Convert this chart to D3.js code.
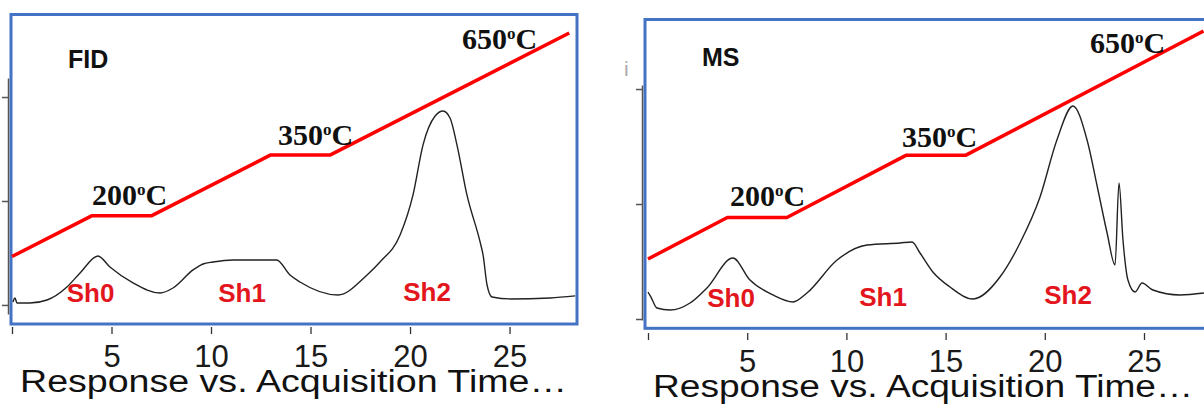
<!DOCTYPE html>
<html><head><meta charset="utf-8">
<script src="https://cdn.jsdelivr.net/npm/d3@7"></script>
<style>body{margin:0;background:#fff}svg{display:block}</style>
</head><body><svg id="c" width="1204" height="404"></svg>
<script>
// ---------- data ----------
const timeTicks = [0, 5, 10, 15, 20, 25];
const responseTicks = [0, 1, 2];
const programTime = [0, 4, 7, 13, 16, 28];
const programTemp = [100, 200, 200, 350, 350, 650];
const holdLabels = ["200", "350", "650"];
const shellNames = ["Sh0", "Sh1", "Sh2"];
const axisTitle = "Response vs. Acquisition Time\u2026";

const fidTime = [0.05,0.15,0.25,0.9,1.76,2.76,3.42,4.32,4.92,6.08,7.44,8.09,9.10,9.6,10.1,11.1,13.3,13.97,14.47,16.38,17.84,18.49,19.5,20.15,20.65,21.26,21.66,22.01,22.36,22.86,23.52,23.67,23.87,24.12,25.03,27.04,28.3];
const fidResponse = [0.029,0.067,0.019,0.019,0.048,0.173,0.308,0.471,0.365,0.212,0.115,0.163,0.337,0.394,0.413,0.433,0.433,0.288,0.221,0.096,0.288,0.413,0.673,1.058,1.538,1.817,1.865,1.798,1.538,1.058,0.606,0.481,0.192,0.077,0.058,0.067,0.087];

const msTime = [0,0.15,0.45,1.11,2.12,2.97,4.28,5.14,6.3,7.31,8.01,9.53,11.04,12.7,13.31,13.71,14.36,15.22,16.38,17.74,18.75,19.76,20.61,21.42,22.13,22.68,23.14,23.54,23.74,23.94,24.19,24.55,24.9,25.45,26.81,28.02];
const msResponse = [0.235,0.19,0.096,0.078,0.139,0.27,0.53,0.339,0.209,0.148,0.226,0.513,0.643,0.661,0.67,0.574,0.409,0.278,0.174,0.365,0.661,1.061,1.557,1.852,1.557,1.122,0.748,0.47,1.183,0.687,0.339,0.235,0.313,0.252,0.209,0.226];

// ---------- layout ----------
const panels = [
  { name: "FID", time: fidTime, resp: fidResponse,
    box: [11, 14.5, 577, 324],
    xDom: [0, 28.4], xRange: [12, 577.2],
    yDom: [-0.087, 2.183], yRange: [314, 78], yAxisX: 8,
    tRange: [256.5, 33],
    xAxisY: 327, tickLabelY: 40,
    title: [20, 392, 547],
    nameXY: [68, 68],
    shellXY: [[90.5, 302], [242, 302], [427, 301]],
    holdXY: [[92, 205], [278, 145], [462, 49]] },
  { name: "MS", time: msTime, resp: msResponse,
    box: [645, 19.5, 1215, 328.3],
    xDom: [0, 28.1], xRange: [648, 1205.5],
    yDom: [-0.0087, 2.035], yRange: [320, 85], yAxisX: 642,
    tRange: [259, 31],
    xAxisY: 333, tickLabelY: 39,
    title: [653, 397, 540],
    nameXY: [702, 66],
    shellXY: [[731, 307], [883, 306], [1068, 304]],
    holdXY: [[730, 206], [902, 147], [1090, 53]] }
];

const svg = d3.select("#c");
const SANS = "'Liberation Sans', Arial, sans-serif";
const SERIF = "'Liberation Serif', 'Times New Roman', serif";

panels.forEach(p => {
  const g = svg.append("g");
  const x = d3.scaleLinear().domain(p.xDom).range(p.xRange);
  const y = d3.scaleLinear().domain(p.yDom).range(p.yRange);
  const yT = d3.scaleLinear().domain([100, 650]).range(p.tRange);

  // blue frame
  g.append("rect")
    .attr("x", p.box[0]).attr("y", p.box[1])
    .attr("width", p.box[2] - p.box[0]).attr("height", p.box[3] - p.box[1])
    .attr("fill", "none").attr("stroke", "#4472c4").attr("stroke-width", 3);

  // y axis (unlabelled)
  const ya = g.append("g").attr("transform", `translate(${p.yAxisX},0)`)
    .call(d3.axisLeft(y).tickValues(responseTicks).tickFormat("").tickSize(6).tickSizeOuter(0));
  ya.selectAll("path,line").attr("stroke", "#555").attr("stroke-width", 1.5);

  // x axis ticks + labels
  const xa = g.append("g").attr("transform", `translate(0,${p.xAxisY})`)
    .call(d3.axisBottom(x).tickValues(timeTicks).tickFormat(d => d === 0 ? "" : d).tickSize(7));
  xa.select(".domain").remove();
  xa.selectAll("line").attr("stroke", "#333").attr("stroke-width", 1.3);
  xa.selectAll("text").attr("y", p.tickLabelY).attr("dy", 0)
    .attr("font-family", SANS).attr("font-size", 31).attr("fill", "#1a1a1a");

  // axis title
  g.append("text").attr("x", p.title[0]).attr("y", p.title[1])
    .attr("textLength", p.title[2]).attr("lengthAdjust", "spacingAndGlyphs")
    .attr("font-family", SANS).attr("font-size", 31).attr("fill", "#111")
    .text(axisTitle);

  // temperature program
  g.append("path").datum(programTime.map((t, i) => [t, programTemp[i]]))
    .attr("fill", "none").attr("stroke", "#ff0000").attr("stroke-width", 3.5)
    .attr("stroke-linejoin", "round")
    .attr("d", d3.line().x(d => x(d[0])).y(d => yT(d[1])));

  // chromatogram
  g.append("path").datum(p.time.map((t, i) => [t, p.resp[i]]))
    .attr("fill", "none").attr("stroke", "#222").attr("stroke-width", 1.4)
    .attr("d", d3.line().x(d => x(d[0])).y(d => y(d[1])).curve(d3.curveMonotoneX));

  // detector name
  g.append("text").attr("x", p.nameXY[0]).attr("y", p.nameXY[1])
    .attr("font-family", SANS).attr("font-weight", "bold").attr("font-size", 25)
    .attr("fill", "#111").text(p.name);

  // shell labels
  shellNames.forEach((s, i) => {
    g.append("text").attr("x", p.shellXY[i][0]).attr("y", p.shellXY[i][1])
      .attr("text-anchor", "middle")
      .attr("font-family", SANS).attr("font-weight", "bold").attr("font-size", 26)
      .attr("fill", "#e3161e").text(s);
  });

  // hold temperature labels
  holdLabels.forEach((h, i) => {
    const t = g.append("text").attr("x", p.holdXY[i][0]).attr("y", p.holdXY[i][1])
      .attr("font-family", SERIF).attr("font-weight", "bold").attr("font-size", 30)
      .attr("fill", "#111");
    t.append("tspan").text(h);
    t.append("tspan").attr("font-size", 17).attr("dy", -10).text("o");
    t.append("tspan").attr("dy", 10).text("C");
  });
});

// clipped fragment at MS axis
svg.append("text").attr("x", 624).attr("y", 76)
  .attr("font-family", SANS).attr("font-size", 21).attr("fill", "#aaa").text("i");
</script></body></html>
